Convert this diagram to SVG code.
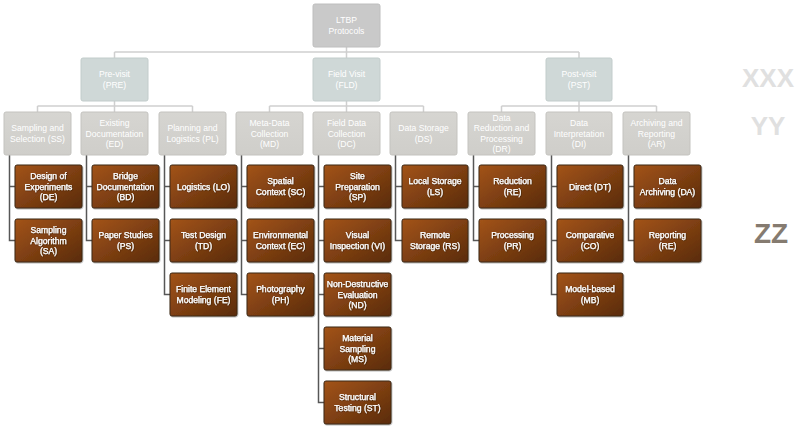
<svg xmlns="http://www.w3.org/2000/svg" width="800" height="426" viewBox="0 0 800 426">
<defs>
<linearGradient id="brown" x1="0" y1="0" x2="1" y2="1">
<stop offset="0" stop-color="#a3541a"/>
<stop offset="1" stop-color="#5a2b0a"/>
</linearGradient>
<linearGradient id="grey" x1="0" y1="0" x2="0" y2="1">
<stop offset="0" stop-color="#d6d5d1"/>
<stop offset="1" stop-color="#cfceca"/>
</linearGradient>
<filter id="sh" x="-10%" y="-10%" width="130%" height="130%">
<feDropShadow dx="0.6" dy="0.8" stdDeviation="0.6" flood-color="#000" flood-opacity="0.35"/>
</filter>
<filter id="tsh" x="-10%" y="-20%" width="130%" height="150%">
<feDropShadow dx="0.5" dy="0.5" stdDeviation="0.4" flood-color="#2a1205" flood-opacity="0.8"/>
</filter>
</defs>
<style>
text{font-family:"Liberation Sans",Arial,sans-serif;font-size:8.6px;fill:#fff;text-anchor:middle}
.root rect{fill:#c9c9c9;stroke:#bebebe;stroke-width:1}
.l1 rect{fill:#cfd8d7;stroke:#c2cccb;stroke-width:1}
.l2 rect{fill:url(#grey);stroke:#c4c3bf;stroke-width:1}
.l3 rect{fill:url(#brown);stroke:#3e2814;stroke-width:1;filter:url(#sh)}
.l3 text{font-size:8.6px;stroke:#fff;stroke-width:0.25px;filter:url(#tsh)}
.top{fill:none;stroke:#cfcfcf;stroke-width:1.5}
.sub{fill:none;stroke:#575757;stroke-width:1.5}
.side{font-weight:bold;text-anchor:middle}
</style>
<g id="connectors">
<path class="top" d="M346.5 47V52M114.5 52H579M114.5 52V58M346.5 52V58M579 52V58"/>
<path class="top" d="M114.5 101V106M37.5 106H192.5M37.5 106V112M114.5 106V112M192.5 106V112"/>
<path class="top" d="M346.5 101V106M269.5 106H423.5M269.5 106V112M346.5 106V112M423.5 106V112"/>
<path class="top" d="M579 101V106M501.5 106H656.5M501.5 106V112M579 106V112M656.5 106V112"/>
<path class="sub" d="M9.5 155V240.5H15M9.5 186.5H15"/>
<path class="sub" d="M86.5 155V240.5H92M86.5 186.5H92"/>
<path class="sub" d="M164.5 155V294.5H170M164.5 186.5H170M164.5 240.5H170"/>
<path class="sub" d="M241.5 155V294.5H247M241.5 186.5H247M241.5 240.5H247"/>
<path class="sub" d="M318.5 155V402.5H324M318.5 186.5H324M318.5 240.5H324M318.5 294.5H324M318.5 348.5H324"/>
<path class="sub" d="M395.5 155V240.5H402M395.5 186.5H402"/>
<path class="sub" d="M473.5 155V240.5H479M473.5 186.5H479"/>
<path class="sub" d="M551.5 155V294.5H557M551.5 186.5H557M551.5 240.5H557"/>
<path class="sub" d="M628.5 155V240.5H634M628.5 186.5H634"/>
</g>
<g id="LTBP" class="root"><rect x="313" y="4" width="67" height="43" rx="2"/><text x="346.5" y="23.4">LTBP<tspan x="346.5" dy="10.3">Protocols</tspan></text></g>
<g id="PRE" class="l1"><rect x="81" y="58" width="67" height="43" rx="2"/><text x="114.5" y="77.4">Pre-visit<tspan x="114.5" dy="10.3">(PRE)</tspan></text></g>
<g id="FLD" class="l1"><rect x="313" y="58" width="67" height="43" rx="2"/><text x="346.5" y="77.4">Field Visit<tspan x="346.5" dy="10.3">(FLD)</tspan></text></g>
<g id="PST" class="l1"><rect x="546" y="58" width="66" height="43" rx="2"/><text x="579" y="77.4">Post-visit<tspan x="579" dy="10.3">(PST)</tspan></text></g>
<g id="SS" class="l2"><rect x="4" y="112" width="67" height="43" rx="2"/><text x="37.5" y="131.4">Sampling and<tspan x="37.5" dy="10.3">Selection (SS)</tspan></text></g>
<g id="ED" class="l2"><rect x="81" y="112" width="67" height="43" rx="2"/><text x="114.5" y="126.2">Existing<tspan x="114.5" dy="10.3">Documentation</tspan><tspan x="114.5" dy="10.3">(ED)</tspan></text></g>
<g id="PL" class="l2"><rect x="159" y="112" width="67" height="43" rx="2"/><text x="192.5" y="131.4">Planning and<tspan x="192.5" dy="10.3">Logistics (PL)</tspan></text></g>
<g id="MD" class="l2"><rect x="236" y="112" width="67" height="43" rx="2"/><text x="269.5" y="126.2">Meta-Data<tspan x="269.5" dy="10.3">Collection</tspan><tspan x="269.5" dy="10.3">(MD)</tspan></text></g>
<g id="DC" class="l2"><rect x="313" y="112" width="67" height="43" rx="2"/><text x="346.5" y="126.2">Field Data<tspan x="346.5" dy="10.3">Collection</tspan><tspan x="346.5" dy="10.3">(DC)</tspan></text></g>
<g id="DS" class="l2"><rect x="390" y="112" width="67" height="43" rx="2"/><text x="423.5" y="131.4">Data Storage<tspan x="423.5" dy="10.3">(DS)</tspan></text></g>
<g id="DR" class="l2"><rect x="468" y="112" width="67" height="43" rx="2"/><text x="501.5" y="121.1">Data<tspan x="501.5" dy="10.3">Reduction and</tspan><tspan x="501.5" dy="10.3">Processing</tspan><tspan x="501.5" dy="10.3">(DR)</tspan></text></g>
<g id="DI" class="l2"><rect x="546" y="112" width="66" height="43" rx="2"/><text x="579" y="126.2">Data<tspan x="579" dy="10.3">Interpretation</tspan><tspan x="579" dy="10.3">(DI)</tspan></text></g>
<g id="AR" class="l2"><rect x="623" y="112" width="67" height="43" rx="2"/><text x="656.5" y="126.2">Archiving and<tspan x="656.5" dy="10.3">Reporting</tspan><tspan x="656.5" dy="10.3">(AR)</tspan></text></g>
<g id="DE" class="l3"><rect x="15" y="165" width="67" height="43" rx="2"/><text x="48.5" y="179.2">Design of<tspan x="48.5" dy="10.3">Experiments</tspan><tspan x="48.5" dy="10.3">(DE)</tspan></text></g>
<g id="SA" class="l3"><rect x="15" y="219" width="67" height="43" rx="2"/><text x="48.5" y="233.2">Sampling<tspan x="48.5" dy="10.3">Algorithm</tspan><tspan x="48.5" dy="10.3">(SA)</tspan></text></g>
<g id="BD" class="l3"><rect x="92" y="165" width="67" height="43" rx="2"/><text x="125.5" y="179.2">Bridge<tspan x="125.5" dy="10.3">Documentation</tspan><tspan x="125.5" dy="10.3">(BD)</tspan></text></g>
<g id="PS" class="l3"><rect x="92" y="219" width="67" height="43" rx="2"/><text x="125.5" y="238.4">Paper Studies<tspan x="125.5" dy="10.3">(PS)</tspan></text></g>
<g id="LO" class="l3"><rect x="170" y="165" width="67" height="43" rx="2"/><text x="203.5" y="189.5">Logistics (LO)</text></g>
<g id="TD" class="l3"><rect x="170" y="219" width="67" height="43" rx="2"/><text x="203.5" y="238.4">Test Design<tspan x="203.5" dy="10.3">(TD)</tspan></text></g>
<g id="FE" class="l3"><rect x="170" y="273" width="67" height="43" rx="2"/><text x="203.5" y="292.4">Finite Element<tspan x="203.5" dy="10.3">Modeling (FE)</tspan></text></g>
<g id="SC" class="l3"><rect x="247" y="165" width="67" height="43" rx="2"/><text x="280.5" y="184.4">Spatial<tspan x="280.5" dy="10.3">Context (SC)</tspan></text></g>
<g id="EC" class="l3"><rect x="247" y="219" width="67" height="43" rx="2"/><text x="280.5" y="238.4">Environmental<tspan x="280.5" dy="10.3">Context (EC)</tspan></text></g>
<g id="PH" class="l3"><rect x="247" y="273" width="67" height="43" rx="2"/><text x="280.5" y="292.4">Photography<tspan x="280.5" dy="10.3">(PH)</tspan></text></g>
<g id="SP" class="l3"><rect x="324" y="165" width="67" height="43" rx="2"/><text x="357.5" y="179.2">Site<tspan x="357.5" dy="10.3">Preparation</tspan><tspan x="357.5" dy="10.3">(SP)</tspan></text></g>
<g id="VI" class="l3"><rect x="324" y="219" width="67" height="43" rx="2"/><text x="357.5" y="238.4">Visual<tspan x="357.5" dy="10.3">Inspection (VI)</tspan></text></g>
<g id="ND" class="l3"><rect x="324" y="273" width="67" height="43" rx="2"/><text x="357.5" y="287.2">Non-Destructive<tspan x="357.5" dy="10.3">Evaluation</tspan><tspan x="357.5" dy="10.3">(ND)</tspan></text></g>
<g id="MS" class="l3"><rect x="324" y="327" width="67" height="43" rx="2"/><text x="357.5" y="341.2">Material<tspan x="357.5" dy="10.3">Sampling</tspan><tspan x="357.5" dy="10.3">(MS)</tspan></text></g>
<g id="ST" class="l3"><rect x="324" y="381" width="67" height="43" rx="2"/><text x="357.5" y="400.4">Structural<tspan x="357.5" dy="10.3">Testing (ST)</tspan></text></g>
<g id="LS" class="l3"><rect x="402" y="165" width="66" height="43" rx="2"/><text x="435" y="184.4">Local Storage<tspan x="435" dy="10.3">(LS)</tspan></text></g>
<g id="RS" class="l3"><rect x="402" y="219" width="66" height="43" rx="2"/><text x="435" y="238.4">Remote<tspan x="435" dy="10.3">Storage (RS)</tspan></text></g>
<g id="RE" class="l3"><rect x="479" y="165" width="67" height="43" rx="2"/><text x="512.5" y="184.4">Reduction<tspan x="512.5" dy="10.3">(RE)</tspan></text></g>
<g id="PR" class="l3"><rect x="479" y="219" width="67" height="43" rx="2"/><text x="512.5" y="238.4">Processing<tspan x="512.5" dy="10.3">(PR)</tspan></text></g>
<g id="DT" class="l3"><rect x="557" y="165" width="66" height="43" rx="2"/><text x="590" y="189.5">Direct (DT)</text></g>
<g id="CO" class="l3"><rect x="557" y="219" width="66" height="43" rx="2"/><text x="590" y="238.4">Comparative<tspan x="590" dy="10.3">(CO)</tspan></text></g>
<g id="MB" class="l3"><rect x="557" y="273" width="66" height="43" rx="2"/><text x="590" y="292.4">Model-based<tspan x="590" dy="10.3">(MB)</tspan></text></g>
<g id="DA" class="l3"><rect x="634" y="165" width="67" height="43" rx="2"/><text x="667.5" y="184.4">Data<tspan x="667.5" dy="10.3">Archiving (DA)</tspan></text></g>
<g id="RE2" class="l3"><rect x="634" y="219" width="67" height="43" rx="2"/><text x="667.5" y="238.4">Reporting<tspan x="667.5" dy="10.3">(RE)</tspan></text></g>
<g id="labels">
<text class="side" x="768" y="87" style="font-size:26px;fill:#e0e0e0">XXX</text>
<text class="side" x="768" y="135" style="font-size:26px;fill:#e0e0e0">YY</text>
<text class="side" x="771" y="243" style="font-size:28px;fill:#857b70">ZZ</text>
</g>
</svg>
